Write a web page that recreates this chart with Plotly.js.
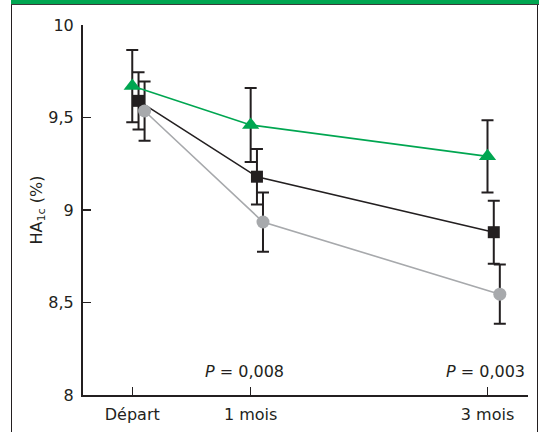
<!DOCTYPE html>
<html>
<head>
<meta charset="utf-8">
<script src="https://cdn.plot.ly/plotly-3.0.1.min.js"></script>
<style>
  html, body { margin: 0; padding: 0; background: #fff; }
  #wrap { position: relative; width: 539px; height: 432px; overflow: hidden; }
  #frame { position: absolute; left: 11px; top: 0; width: 525px; height: 440px;
           border-left: 1.5px solid #231f20; border-right: 1.5px solid #231f20; }
  #bar { position: absolute; left: 11px; top: 0; width: 528px; height: 4px; background: #00a651;
         border-bottom: 1.5px solid #3a3a3a; }
  #chart { position: absolute; left: 0; top: 0; width: 539px; height: 432px; }
</style>
</head>
<body>
<div id="wrap">
  <div id="frame"></div>
  <div id="bar"></div>
  <div id="chart"></div>
</div>
<script>
// Time points (months) and labels
const months = [0, 1, 3];
const xLabels = ['Départ', '1 mois', '3 mois'];

// Series values (HbA1c %) and error half-widths
const greenValues = [9.67, 9.46, 9.29];
const greenErrors = [0.195, 0.2, 0.195];
const blackValues = [9.59, 9.18, 8.88];
const blackErrors = [0.155, 0.15, 0.17];
const grayValues  = [9.535, 8.935, 8.545];
const grayErrors  = [0.16, 0.16, 0.16];

// Y ticks
const yTickVals = [8, 8.5, 9, 9.5, 10];
const yTickText = ['8', '8,5', '9', '9,5', '10'];

// P-value annotations
const pLabels = ['<i>P</i> = 0,008', '<i>P</i> = 0,003'];
const pMonths = [1, 3];

const ink = '#231f20';
const offsets = { green: 0, black: 0.053, gray: 0.104 };

function shifted(off) { return months.map(m => m + off); }

function trace(vals, errs, off, color, symbol, size) {
  return {
    type: 'scatter', mode: 'lines+markers',
    x: shifted(off), y: vals,
    line: { color: color, width: 1.6 },
    marker: { color: color, symbol: symbol, size: size, line: { width: 0 } },
    error_y: { type: 'data', array: errs, visible: true, color: ink, thickness: 2, width: 6 },
    hoverinfo: 'skip', showlegend: false, cliponaxis: false
  };
}

const data = [
  trace(blackValues, blackErrors, offsets.black, ink, 'square', 12),
  trace(grayValues, grayErrors, offsets.gray, '#a7a9ac', 'circle', 13),
  trace(greenValues, greenErrors, offsets.green, '#00a651', 'triangle-up', 15)
];

const font = { family: 'DejaVu Sans, sans-serif', size: 16, color: ink };

const layout = {
  width: 539, height: 432,
  margin: { l: 83, r: 11, t: 25, b: 37 },
  paper_bgcolor: 'rgba(0,0,0,0)', plot_bgcolor: 'rgba(0,0,0,0)',
  font: font,
  showlegend: false,
  xaxis: {
    range: [-0.416, 3.342],
    tickvals: months, ticktext: xLabels,
    ticks: 'inside', ticklen: 8, tickwidth: 1.5, tickcolor: ink,
    showline: true, linecolor: ink, linewidth: 2,
    showgrid: false, zeroline: false, fixedrange: true,
    tickfont: font, ticklabelstandoff: 4
  },
  yaxis: {
    range: [8, 10],
    tickvals: yTickVals, ticktext: yTickText,
    ticks: 'inside', ticklen: 8, tickwidth: 1.5, tickcolor: ink,
    showline: true, linecolor: ink, linewidth: 2,
    showgrid: false, zeroline: false, fixedrange: true,
    tickfont: font, ticklabelstandoff: 4,
    title: { text: 'HA<sub>1c</sub> (%)', font: font, standoff: 2 }
  },
  annotations: pLabels.map((t, i) => ({
    text: t, x: pMonths[i], y: 8.125, xref: 'x', yref: 'y',
    xanchor: 'center', yanchor: 'middle', showarrow: false,
    xshift: i === 0 ? -6 : -2, font: font
  }))
};

Plotly.newPlot('chart', data, layout, { displayModeBar: false, staticPlot: true });
</script>
</body>
</html>
